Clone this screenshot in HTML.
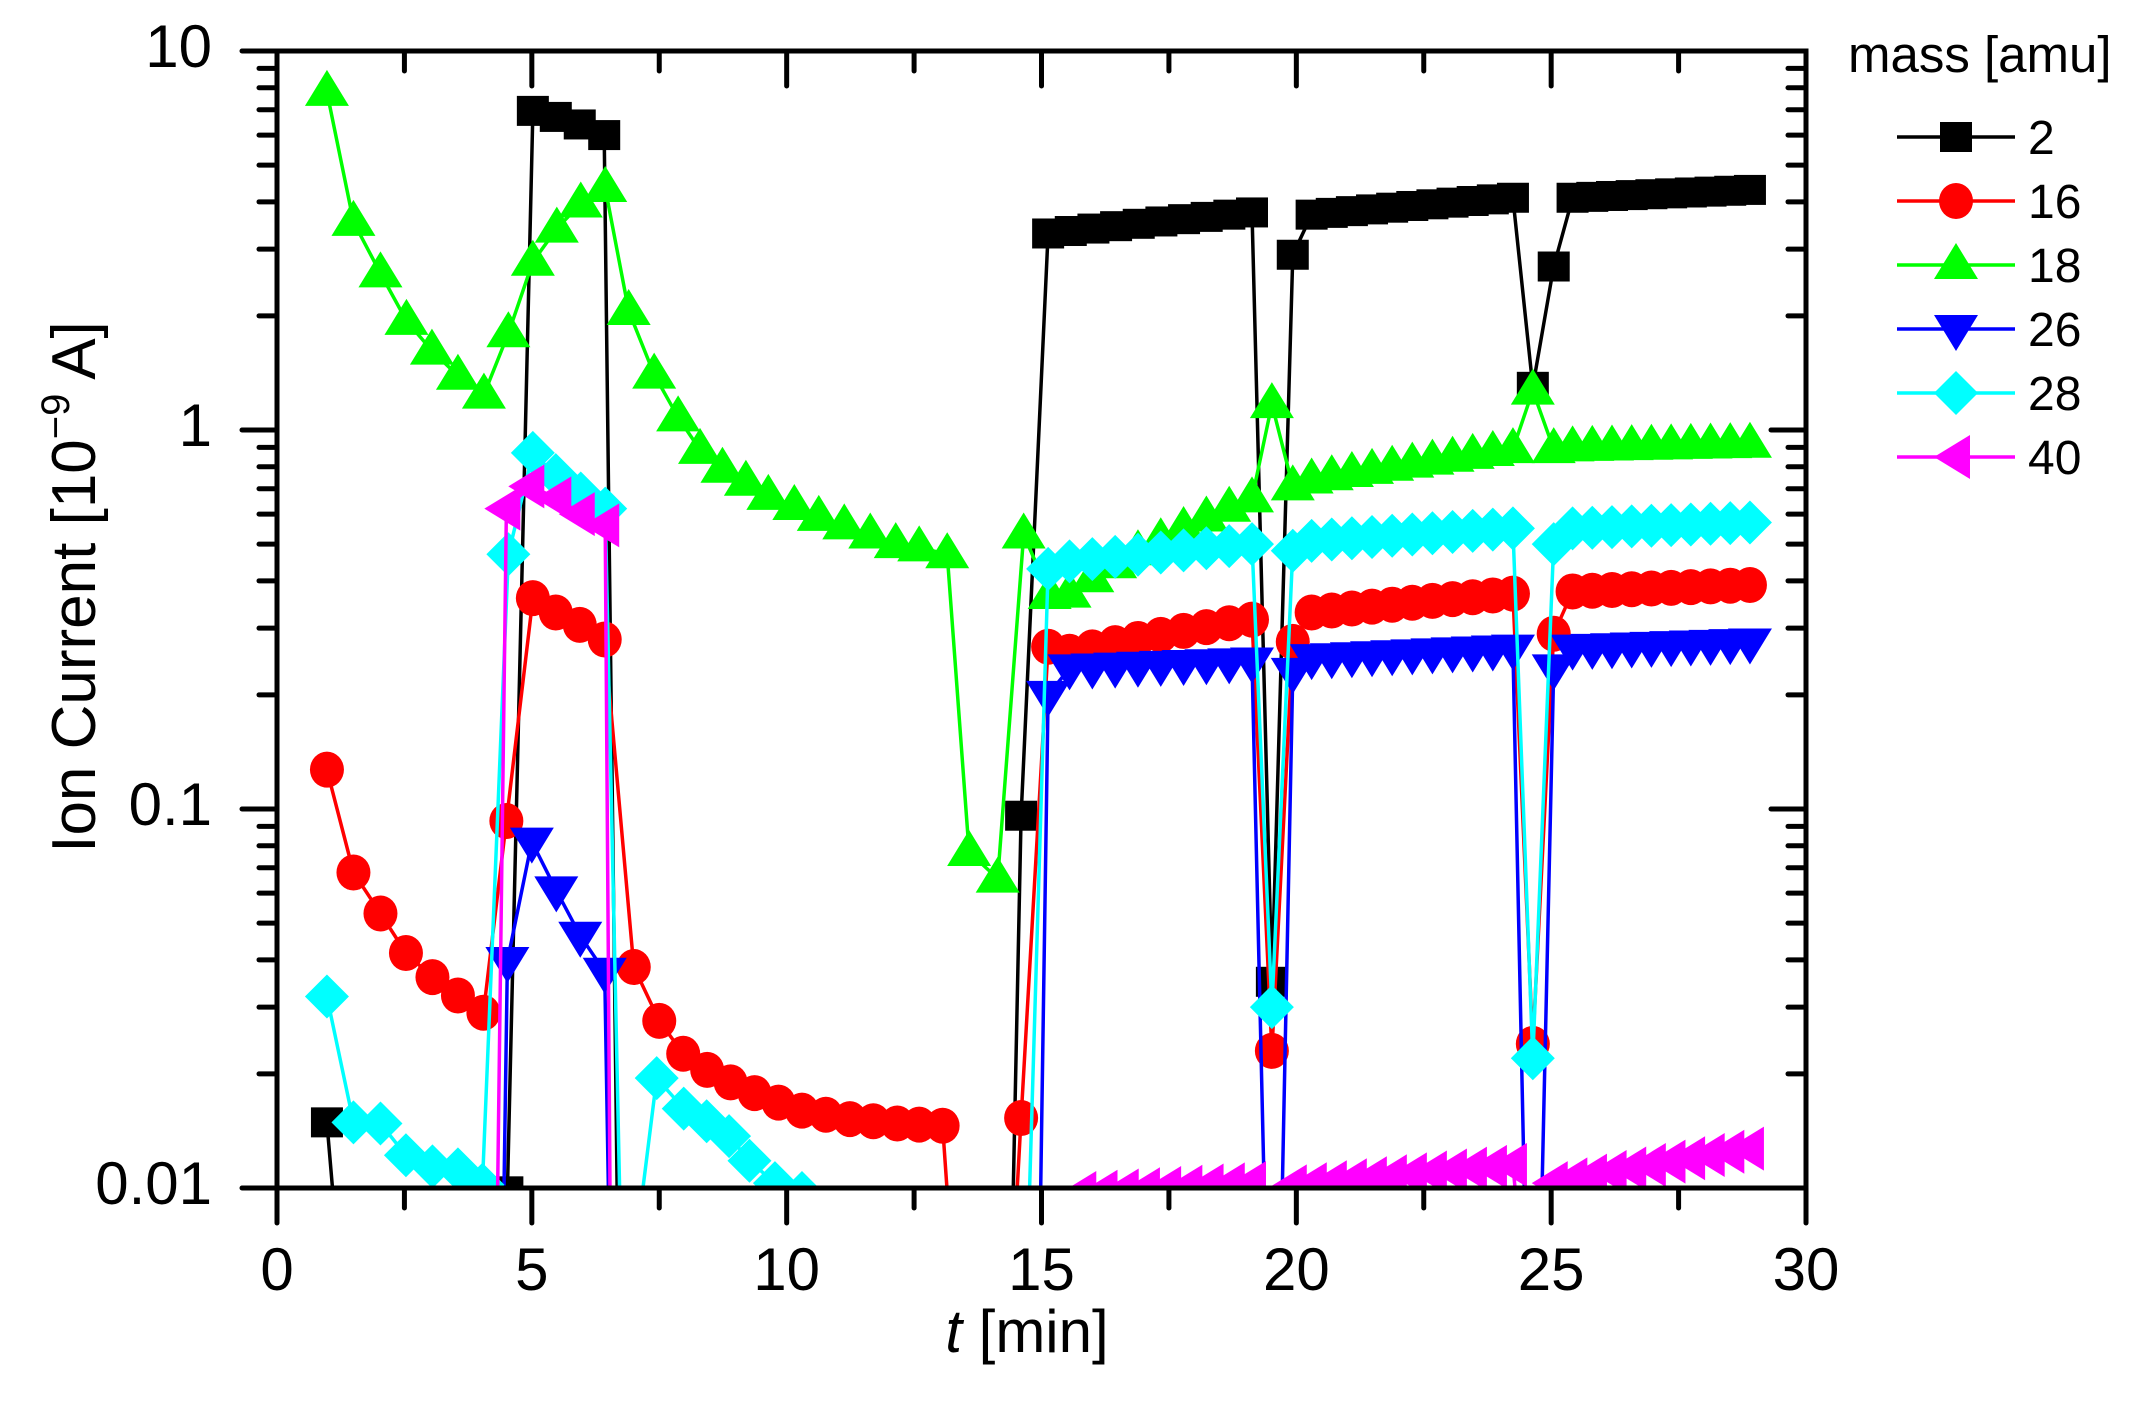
<!DOCTYPE html>
<html><head><meta charset="utf-8">
<style>
html,body{margin:0;padding:0;background:#fff;}
svg{display:block;}
text{font-family:"Liberation Sans",Arial,sans-serif;fill:#000;}
</style></head>
<body>
<svg id="s" width="2148" height="1401" viewBox="0 0 2148 1401" xmlns="http://www.w3.org/2000/svg">
<defs><clipPath id="cp"><rect x="277" y="51" width="1529" height="1137"/></clipPath></defs>
<g id="data" clip-path="url(#cp)"></g>
<g id="axes"></g>
<text x="95" y="587" font-size="62" text-anchor="middle" transform="rotate(-90 95 587)">Ion Current [10<tspan font-size="40" dy="-26">−9</tspan><tspan dy="26"> A]</tspan></text>
<text x="1027" y="1352" font-size="60" text-anchor="middle"><tspan font-style="italic">t</tspan> [min]</text>
<text x="1848" y="72" font-size="51">mass [amu]</text>
<g id="legend"></g>
</svg>
<script>
var NS="http://www.w3.org/2000/svg";
function X(t){return 277+t*50.967;}
function Y(v){return 1188-(Math.log10(v)+2)*379;}
function el(p,tag,a){var e=document.createElementNS(NS,tag);for(var k in a)e.setAttribute(k,a[k]);p.appendChild(e);return e;}
function seg(t0,t1,n,v0,v1){var r=[];for(var i=0;i<=n;i++){r.push([t0+(t1-t0)*i/n,v0+(v1-v0)*i/n]);}return r;}
var L=0.005;
var black=[[0.98,.0149],[1.28,L],[4.45,L],[4.52,.0098],[5.02,6.95],[5.47,6.7],[5.94,6.4],[6.42,6.0],[6.7,L],[14.4,L],[14.6,.096]]
 .concat(seg(15.13,19.13,9,3.3,3.75),[[19.52,.035],[19.93,2.9]],seg(20.3,24.25,10,3.7,4.1),[[24.64,1.3],[25.05,2.7]],seg(25.42,28.9,9,4.1,4.3));
var redT=[8.9,9.37,9.84,10.3,10.77,11.24,11.7,12.17,12.6,13.06],redV=[.019,.0178,.0168,.016,.0156,.0152,.015,.0148,.0147,.0146];
var red=[[0.98,.127],[1.5,.068],[2.03,.053],[2.53,.0417],[3.05,.036],[3.55,.0322],[4.05,.029],[4.5,.093],[5.02,.36],[5.47,.33],[5.94,.306],[6.43,.28],[7.0,.0383],[7.5,.0276],[7.97,.0226],[8.44,.0205]];
for(var i=0;i<redT.length;i++)red.push([redT[i],redV[i]]);
red=red.concat([[13.3,L],[14.4,L],[14.6,.0153],[15.13,.268]],seg(15.55,19.13,8,.26,.316),[[19.52,.023],[19.93,.276]],seg(20.3,24.25,10,.33,.37),[[24.64,.024],[25.05,.29]],seg(25.42,28.9,9,.375,.39));
var green=[[0.98,7.8],[1.5,3.54],[2.03,2.59],[2.54,1.94],[3.04,1.62],[3.55,1.39],[4.06,1.24],[4.54,1.8],[5.02,2.78],[5.49,3.4],[5.96,3.96],[6.44,4.35],[6.9,2.06],[7.4,1.4],[7.87,1.08],[8.3,.886],[8.74,.79],[9.2,.73],[9.64,.67],[10.15,.63],[10.63,.59],[11.13,.56],[11.64,.53],[12.14,.5],[12.6,.49],[13.15,.47],[13.58,.077],[14.14,.0655],[14.65,.53],[15.16,.367]]
 .concat(seg(15.55,19.13,8,.37,.66),[[19.52,1.17],[19.93,.71]],seg(20.3,24.25,10,.74,.89),[[24.64,1.27],[25.05,.89]],seg(25.42,28.9,9,.9,.92));
var blue=[[4.42,L],[4.52,.0397],[5.0,.082],[5.48,.061],[5.95,.0463],[6.43,.0372],[6.54,L],[14.95,L],[15.13,.2]]
 .concat(seg(15.55,19.13,8,.235,.245),[[19.42,L],[19.68,L],[19.93,.23]],seg(20.3,24.25,10,.25,.265),[[24.52,L],[24.77,L],[25.05,.235]],seg(25.42,28.9,9,.265,.275));
var cyan=[[0.98,.032],[1.5,.0149],[2.03,.0148],[2.53,.0122],[3.05,.0114],[3.55,.0112],[4.03,.0102],[4.54,.47],[5.02,.87],[5.47,.76],[5.96,.68],[6.44,.62],[6.77,L],[6.9,L],[7.45,.0195],[7.98,.0162],[8.43,.015],[8.87,.0137],[9.27,.0118],[9.77,.0103],[10.3,.0097],[10.5,L],[14.7,L],[15.13,.43]]
 .concat(seg(15.55,19.13,8,.45,.5),[[19.52,.03],[19.93,.48]],seg(20.3,24.25,10,.51,.55),[[24.64,.022],[25.05,.5]],seg(25.42,28.9,9,.55,.57));
var mag=[[4.3,L],[4.5,.62],[4.97,.71],[5.5,.66],[5.96,.6],[6.44,.56],[6.55,L],[15.5,L]]
 .concat(seg(15.8,19.13,8,.0097,.0103),[[19.35,L],[19.7,L]],seg(19.93,24.25,11,.0101,.0115),[[24.5,L],[24.8,L]],seg(25.05,28.9,10,.0103,.0127));

function marker(g,type,x,y,c){
 if(type=='sq')el(g,'rect',{x:x-16,y:y-15,width:32,height:30,fill:c});
 else if(type=='ci')el(g,'ellipse',{cx:x,cy:y,rx:17,ry:18,fill:c});
 else if(type=='up')el(g,'polygon',{points:(x)+','+(y-22)+' '+(x+22)+','+(y+14)+' '+(x-22)+','+(y+14),fill:c});
 else if(type=='dn')el(g,'polygon',{points:(x)+','+(y+22)+' '+(x+22)+','+(y-14)+' '+(x-22)+','+(y-14),fill:c});
 else if(type=='di')el(g,'polygon',{points:x+','+(y-22)+' '+(x+22)+','+y+' '+x+','+(y+22)+' '+(x-22)+','+y,fill:c});
 else if(type=='lt')el(g,'polygon',{points:(x-22)+','+y+' '+(x+14)+','+(y-22)+' '+(x+14)+','+(y+22),fill:c});
}
var series=[[black,'#000','sq'],[red,'#ff0000','ci'],[green,'#00ff00','up'],[blue,'#0000ff','dn'],[cyan,'#00ffff','di'],[mag,'#ff00ff','lt']];
var D=document.getElementById('data');
series.forEach(function(s){
 var g=el(D,'g',{});
 var pts=s[0].map(function(p){return X(p[0]).toFixed(1)+','+Y(p[1]).toFixed(1);}).join(' ');
 el(g,'polyline',{points:pts,fill:'none',stroke:s[1],'stroke-width':3.5,'stroke-linejoin':'round'});
 s[0].forEach(function(p){if(p[1]>L)marker(g,s[2],X(p[0]),Y(p[1]),s[1]);});
});
// axes
var A=document.getElementById('axes');
el(A,'rect',{x:277,y:51,width:1529,height:1137,fill:'none',stroke:'#000','stroke-width':5});
for(var t=0;t<=30;t+=2.5){
 var x=X(t),maj=(t%5==0),len=maj?35:20;
 el(A,'line',{x1:x,y1:1188,x2:x,y2:1188+len,stroke:'#000','stroke-width':5,'stroke-linecap':'round'});
 el(A,'line',{x1:x,y1:51,x2:x,y2:51+len,stroke:'#000','stroke-width':5,'stroke-linecap':'round'});
 if(maj){var tx=el(A,'text',{x:x,y:1290,'font-size':60,'text-anchor':'middle'});tx.textContent=t;}
}
var labs={'-2':'0.01','-1':'0.1','0':'1','1':'10'};
for(var d=-2;d<=1;d++){
 for(var m=1;m<=9;m++){
  if(d==1&&m>1)break;
  var y=Y(m*Math.pow(10,d)),len=(m==1)?35:18;
  el(A,'line',{x1:277-len,y1:y,x2:277,y2:y,stroke:'#000','stroke-width':5,'stroke-linecap':'round'});
  el(A,'line',{x1:1806,y1:y,x2:1806-len,y2:y,stroke:'#000','stroke-width':5,'stroke-linecap':'round'});
  if(m==1){var ty=el(A,'text',{x:212,y:y+16,'font-size':60,'text-anchor':'end'});ty.textContent=labs[d];}
 }
}
// legend
var G=document.getElementById('legend');
var names=['2','16','18','26','28','40'];
series.forEach(function(s,i){
 var y=137+i*64;
 el(G,'line',{x1:1897,y1:y,x2:2015,y2:y,stroke:s[1],'stroke-width':3.5});
 marker(G,s[2],1956,y,s[1]);
 var tt=el(G,'text',{x:2028,y:y+17,'font-size':48});tt.textContent=names[i];
});
</script>
</body></html>
